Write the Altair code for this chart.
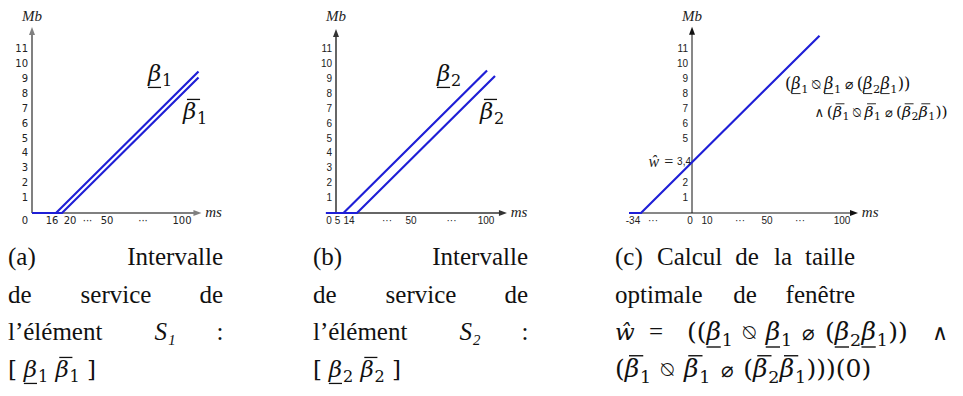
import altair as alt
import pandas as pd

# ---------------- data ----------------
# panel (a): service interval of S1
a_lo_x = [0, 16, 111]
a_lo_y = [0, 0, 9.5]
a_hi_x = [0, 20, 111]
a_hi_y = [0, 0, 9.1]
a_xtick_val = [0, 16, 20, 37, 50, 74, 100]
a_xtick_lbl = ["0", "16", "20", "···", "50", "···", "100"]
a_ytick_val = [1, 2, 3, 4, 5, 6, 7, 8, 9, 10, 11]

# panel (b): service interval of S2
b_lo_x = [-6.7, 5, 100.7]
b_lo_y = [0, 0, 9.57]
b_hi_x = [-6.7, 14, 106]
b_hi_y = [0, 0, 9.2]
b_xtick_val = [0, 5, 14, 34, 50, 77, 100]
b_xtick_lbl = ["0", "5", "14", "···", "50", "···", "100"]
b_ytick_val = [1, 2, 3, 4, 5, 6, 7, 8, 9, 10, 11]

# panel (c): optimal window
c_x = [-42, -34, 85]
c_y = [0, 0, 11.9]
c_xtick_val = [-34, -26, 0, 10, 32, 50, 72, 100]
c_xtick_lbl = ["-34", "···", "0", "10", "···", "50", "···", "100"]
c_ytick_val = [1, 2, 5, 6, 7, 8, 9, 10, 11]
c_what_val = 3.4
c_what_lbl = "3,4"

# math expressions as token lists: ("t", text) upright text, ("o"/"O", symbol) operator,
# ("s", "") space, ("b", subscript, "under"/"over") beta with subscript and bar
LO1 = ("b", "1", "under")
LO2 = ("b", "2", "under")
HI1 = ("b", "1", "over")
HI2 = ("b", "2", "over")
a_curve_lbl = [[LO1], [HI1]]
b_curve_lbl = [[LO2], [HI2]]
c_annot_1 = [("t", "("), LO1, ("o", "⍉"), LO1, ("o", "⌀"), ("t", "("), LO2, LO1, ("t", "))")]
c_annot_2 = [("o", "∧"), ("t", "("), HI1, ("o", "⍉"), HI1, ("o", "⌀"), ("t", "("), HI2, HI1,
             ("t", "))")]
cap_a_math = [("t", "["), ("s", ""), LO1, ("s", ""), HI1, ("s", ""), ("t", "]")]
cap_b_math = [("t", "["), ("s", ""), LO2, ("s", ""), HI2, ("s", ""), ("t", "]")]
cap_c_math_1 = [("t", "(("), LO1, ("O", "⍉"), LO1, ("O", "⌀"), ("t", "("), LO2, LO1, ("t", "))")]
cap_c_math_2 = [("t", "("), HI1, ("O", "⍉"), HI1, ("O", "⌀"), ("t", "("), HI2, HI1,
                ("t", ")))(0)")]

cap_a = ["(a)", "Intervalle", "de", "service", "de", "l’élément", "S₁", ":"]
cap_b = ["(b)", "Intervalle", "de", "service", "de", "l’élément", "S₂", ":"]
cap_c = ["(c)", "Calcul", "de", "la", "taille", "optimale", "de", "fenêtre", "ŵ", "=", "∧"]

# ---------------- layout / style ----------------
BLUE = "#1f1fd6"
H = 380
PXY = 14.9
Y0 = 203
Y_DOM = [-(H - Y0) / PXY, Y0 / PXY]
PXX = 1.5
SERIF = "Liberation Serif"
MATH = "DejaVu Serif"
LINES_Y = [255, 293, 330, 367]
ARROW_R = "M-1,-0.75L1,0L-1,0.75Z"
ARROW_U = "M-0.75,1L0,-1L0.75,1Z"
CAP_FS = 25
EM = {"(": 0.39, ")": 0.39, "((": 0.78, "))": 0.78, "[": 0.39, "]": 0.39,
      ")))(0)": 2.2}


def compose(tokens, fs):
    """Turn a token list into text pieces and bar segments (pixel offsets)."""
    pieces, bars, x = [], [], 0.0
    for tok in tokens:
        kind = tok[0]
        if kind == "t":
            pieces.append(dict(dx=x, dy=0, t=tok[1], fs=fs, st="normal", al="left"))
            x += EM.get(tok[1], 0.6) * fs
        elif kind == "s":
            x += 0.3 * fs
        elif kind in ("o", "O"):
            w = 0.95 if kind == "o" else 1.3
            pieces.append(dict(dx=x + w * fs / 2, dy=0, t=tok[1], fs=0.85 * fs, st="normal",
                               al="center"))
            x += w * fs
        else:
            _, sub, bar = tok
            pieces.append(dict(dx=x, dy=0, t="β", fs=fs, st="italic", al="left"))
            pieces.append(dict(dx=x + 0.61 * fs, dy=0.22 * fs, t=sub, fs=0.7 * fs,
                               st="normal", al="left"))
            if bar == "under":
                bars.append(dict(x1=x, x2=x + 0.57 * fs, dy=0.28 * fs))
            else:
                bars.append(dict(x1=x + 0.17 * fs, x2=x + 0.74 * fs, dy=-0.85 * fs))
            x += 1.07 * fs
    return pieces, bars


def math_layers(tokens, fs, x0, y0, X, Y, data_space):
    pieces, bars = compose(tokens, fs)
    out = []
    pdf = pd.DataFrame(pieces)
    if data_space:
        pdf["x"] = x0 + pdf["dx"] / PXX
        pdf["y"] = y0 - pdf["dy"] / PXY
        xe, ye = X("x"), Y("y")
    else:
        pdf["x"] = x0 + pdf["dx"]
        pdf["y"] = y0 + pdf["dy"]
        xe, ye = alt.X("x:Q", scale=None), alt.Y("y:Q", scale=None)
    for (st, al), g in pdf.groupby(["st", "al"]):
        out.append(alt.Chart(g).mark_text(font=MATH, fontStyle=st, align=al,
                                          baseline="alphabetic", color="#111")
                   .encode(x=xe, y=ye, text="t:N", size=alt.Size("fs:Q", scale=None)))
    if bars:
        bdf = pd.DataFrame(bars)
        if data_space:
            bdf["x"] = x0 + bdf["x1"] / PXX
            bdf["xb"] = x0 + bdf["x2"] / PXX
            bdf["y"] = y0 - bdf["dy"] / PXY
            enc = dict(x=X("x"), x2="xb", y=Y("y"))
        else:
            bdf["x"] = x0 + bdf["x1"]
            bdf["xb"] = x0 + bdf["x2"]
            bdf["y"] = y0 + bdf["dy"]
            enc = dict(x=alt.X("x:Q", scale=None), x2="xb", y=alt.Y("y:Q", scale=None))
        out.append(alt.Chart(bdf).mark_rule(color="#111", strokeWidth=max(0.9, fs / 18))
                   .encode(**enc))
    return out


def panel(W, axis_px, lines, xt_val, xt_lbl, xt_shift, yt_val, x_from, x_tip, y_tip,
          axis_color, axis_w, tick_font, plot_math, caps, cap_layout, cap_math, extra=None):
    xmin = -axis_px / PXX
    xs = alt.Scale(domain=[xmin, xmin + W / PXX], nice=False, zero=False)
    ys = alt.Scale(domain=Y_DOM, nice=False, zero=False)

    def X(f):
        return alt.X(f, type="quantitative", scale=xs, axis=None)

    def Y(f):
        return alt.Y(f, type="quantitative", scale=ys, axis=None)

    layers = []
    ax = pd.DataFrame({"x": [x_from, 0], "x2": [x_tip - 2.7, 0],
                       "y": [0, 0], "y2": [0, y_tip - 0.27]})
    layers.append(alt.Chart(ax).mark_rule(color=axis_color, strokeWidth=axis_w)
                  .encode(x=X("x"), x2="x2", y=Y("y"), y2="y2"))
    layers.append(alt.Chart(pd.DataFrame({"x": [x_tip - 2.7], "y": [0]}))
                  .mark_point(shape=ARROW_R, filled=True, size=64, opacity=1, color=axis_color)
                  .encode(x=X("x"), y=Y("y")))
    layers.append(alt.Chart(pd.DataFrame({"x": [0], "y": [y_tip - 0.27]}))
                  .mark_point(shape=ARROW_U, filled=True, size=64, opacity=1, color=axis_color)
                  .encode(x=X("x"), y=Y("y")))
    rows = []
    for i, (lx, ly) in enumerate(lines):
        for j, (xx, yy) in enumerate(zip(lx, ly)):
            rows.append({"x": xx, "y": yy, "s": i, "o": j})
    layers.append(alt.Chart(pd.DataFrame(rows)).mark_line(color=BLUE, strokeWidth=2.2)
                  .encode(x=X("x"), y=Y("y"), detail="s:N", order="o:Q"))
    xt = pd.DataFrame({"x": [v + s / PXX for v, s in zip(xt_val, xt_shift)],
                       "y": [0] * len(xt_val), "t": xt_lbl})
    layers.append(alt.Chart(xt).mark_text(font=tick_font, fontSize=10, color="#222",
                                          baseline="middle", dy=8)
                  .encode(x=X("x"), y=Y("y"), text="t:N"))
    yt = pd.DataFrame({"x": [0] * len(yt_val), "y": yt_val, "t": [str(v) for v in yt_val]})
    layers.append(alt.Chart(yt).mark_text(font=tick_font, fontSize=10, color="#222",
                                          baseline="middle", align="right", dx=-4)
                  .encode(x=X("x"), y=Y("y"), text="t:N"))
    layers.append(alt.Chart(pd.DataFrame({"x": [0], "y": [13.25], "t": ["Mb"]}))
                  .mark_text(font=SERIF, fontStyle="italic", fontSize=15, color="#222",
                             baseline="middle")
                  .encode(x=X("x"), y=Y("y"), text="t:N"))
    layers.append(alt.Chart(pd.DataFrame({"x": [x_tip + 2.5], "y": [0.05], "t": ["ms"]}))
                  .mark_text(font=SERIF, fontStyle="italic", fontSize=15, color="#222",
                             baseline="middle", align="left")
                  .encode(x=X("x"), y=Y("y"), text="t:N"))
    for tokens, fs, mx, my in plot_math:
        layers.extend(math_layers(tokens, fs, mx, my, X, Y, True))
    if extra:
        layers.extend(extra(X, Y))
    for txt, (px, line, align, font, style, fs) in zip(caps, cap_layout):
        layers.append(alt.Chart(pd.DataFrame({"px": [px], "py": [LINES_Y[line]], "t": [txt]}))
                      .mark_text(font=font, fontSize=fs, fontStyle=style, color="#111",
                                 baseline="alphabetic", align=align)
                      .encode(x=alt.X("px:Q", scale=None), y=alt.Y("py:Q", scale=None),
                              text="t:N"))
    for tokens, fs, px, line in cap_math:
        layers.extend(math_layers(tokens, fs, px, LINES_Y[line], X, Y, False))
    return alt.layer(*layers).properties(width=W, height=H)


def cap_layout_ab(off):
    return [(0 + off, 0, "left", SERIF, "normal", CAP_FS),
            (215 + off, 0, "right", SERIF, "normal", CAP_FS),
            (0 + off, 1, "left", SERIF, "normal", CAP_FS),
            (108 + off, 1, "center", SERIF, "normal", CAP_FS),
            (215 + off, 1, "right", SERIF, "normal", CAP_FS),
            (0 + off, 2, "left", SERIF, "normal", CAP_FS),
            (157 + off, 2, "center", SERIF, "italic", CAP_FS),
            (212 + off, 2, "center", SERIF, "normal", CAP_FS)]


pa = panel(300, 24, [(a_lo_x, a_lo_y), (a_hi_x, a_hi_y)],
           a_xtick_val, a_xtick_lbl, [-7, -4, 8, 0, 0, 0, 0], a_ytick_val,
           0, 113, 12.48, "#808080", 2, "DejaVu Sans",
           [(a_curve_lbl[0], 23, 77.3, 8.86), (a_curve_lbl[1], 23, 100.7, 6.31)],
           cap_a, cap_layout_ab(0), [(cap_a_math, 23, 0, 3)])

pb = panel(300, 28, [(b_lo_x, b_lo_y), (b_hi_x, b_hi_y)],
           b_xtick_val, b_xtick_lbl, [-7, -6, -8, 0, 0, 0, 0], b_ytick_val,
           -6.7, 114, 12.35, "#333333", 1.5, "Liberation Sans",
           [(b_curve_lbl[0], 23, 67.3, 8.86), (b_curve_lbl[1], 23, 96, 6.31)],
           cap_b, cap_layout_ab(5), [(cap_b_math, 23, 5, 3)])


def c_extra(X, Y):
    d = pd.DataFrame({"x": [0], "y": [c_what_val], "t": [c_what_lbl]})
    return [
        alt.Chart(d).mark_text(font="Liberation Sans", fontSize=10, color="#222",
                               baseline="middle", align="right", dx=-1)
        .encode(x=X("x"), y=Y("y"), text="t:N"),
        alt.Chart(d.assign(t=["ŵ ="])).mark_text(font=SERIF, fontStyle="italic", fontSize=16,
                                                 color="#222", baseline="middle",
                                                 align="right", dx=-18)
        .encode(x=X("x"), y=Y("y"), text="t:N"),
    ]


cap_c_layout = [(7, 0, "left", SERIF, "normal", CAP_FS), (49, 0, "left", SERIF, "normal", CAP_FS),
                (139, 0, "center", SERIF, "normal", CAP_FS),
                (175, 0, "center", SERIF, "normal", CAP_FS),
                (247, 0, "right", SERIF, "normal", CAP_FS),
                (7, 1, "left", SERIF, "normal", CAP_FS), (137, 1, "center", SERIF, "normal", CAP_FS),
                (247, 1, "right", SERIF, "normal", CAP_FS),
                (7, 2, "left", MATH, "italic", 23), (48, 2, "center", SERIF, "normal", CAP_FS),
                (332, 2, "center", MATH, "normal", 22)]

pc = panel(347, 84, [(c_x, c_y)],
           c_xtick_val, c_xtick_lbl, [-8, 0, -2, 0, 0, 0, 0, 0], c_ytick_val,
           -41, 110.7, 12.5, "#111111", 1, "Liberation Sans",
           [(c_annot_1, 16.2, 62, 8.32), (c_annot_2, 15.6, 80.0, 6.44)],
           cap_c, cap_c_layout,
           [(cap_c_math_1, 25, 79, 2), (cap_c_math_2, 25, 7, 3)],
           extra=c_extra)

chart = (alt.hconcat(pa, pb, pc, spacing=0)
         .properties(padding=0, background="white")
         .configure_view(strokeWidth=0))

chart.save("out.html", embed_options={"renderer": "svg", "actions": False})
